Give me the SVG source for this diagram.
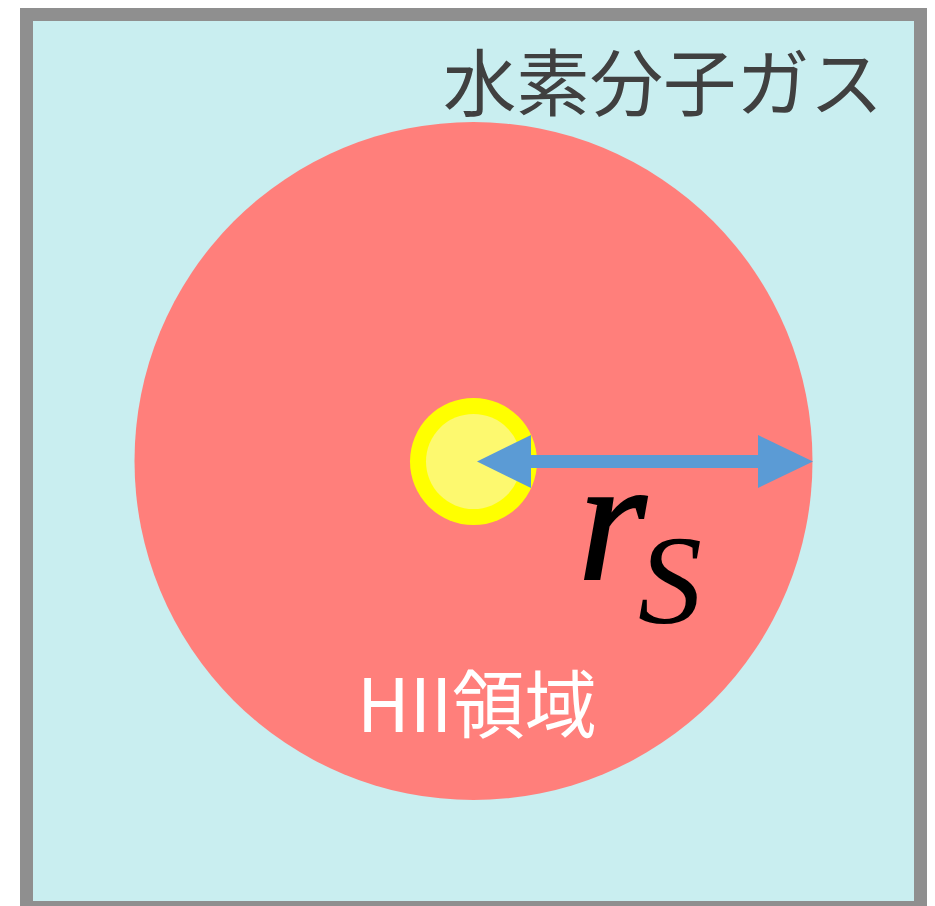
<svg xmlns="http://www.w3.org/2000/svg" width="935" height="906" viewBox="0 0 935 906">
<style>
.jp{font-family:"Noto Sans CJK JP","Noto Sans",sans-serif}
.math{font-family:"Liberation Serif",serif;font-style:italic;fill:#000}
</style>
<rect width="935" height="906" fill="#fff"/>
<g id="gas">
<rect x="26.5" y="14.5" width="894" height="893" fill="#C9EEF0" stroke="#8F8F8F" stroke-width="13"/>
<text class="jp" x="443" y="110" font-size="73" fill="#404040" textLength="440" lengthAdjust="spacingAndGlyphs">水素分子ガス</text>
</g>
<g id="hii">
<circle cx="473.5" cy="461" r="339" fill="#FF7F7B"/>
<text class="jp" x="357" y="732" font-size="74" fill="#fff" textLength="240" lengthAdjust="spacingAndGlyphs">HII領域</text>
</g>
<g id="star">
<circle cx="473.5" cy="461.5" r="63.5" fill="#FFFF00"/>
<circle cx="473.5" cy="461.5" r="47.5" fill="#FDF96F"/>
</g>
<g id="connectors">
<rect x="529" y="455" width="231" height="13" fill="#5B9BD5"/>
<polygon points="477,461.5 531,435 531,488" fill="#5B9BD5"/>
<polygon points="813,461.5 758,435 758,488" fill="#5B9BD5"/>
</g>
<g id="label">
<text class="math" x="578" y="579" font-size="176" stroke="#000" stroke-width="2">r<tspan x="638" y="623" font-size="128" stroke-width="0">S</tspan></text>
</g>
</svg>
